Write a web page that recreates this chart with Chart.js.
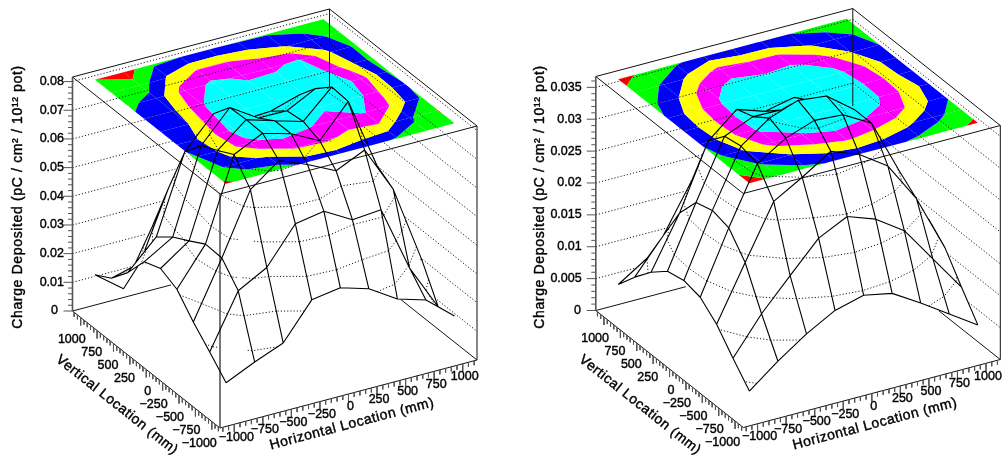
<!DOCTYPE html>
<html>
<head>
<meta charset="utf-8">
<title>Charge deposited</title>
<script src="https://cdn.jsdelivr.net/npm/chart.js@4"></script>
<style>
    body { margin: 0; background: #fff; overflow: hidden; }
    canvas { position: absolute; top: 0; }
    #leftChart { left: 0; }
    #rightChart { left: 501px; }
</style>
</head>
<body>
<canvas id="leftChart" width="501" height="456"></canvas>
<canvas id="rightChart" width="502" height="456"></canvas>
<script>
// Grid positions (mm) where the charge was sampled
const horizontalPos = [-1000, -750, -500, -250, 0, 250, 500, 750, 1000];
const verticalPos = [-1000, -750, -500, -250, 0, 250, 500, 750, 1000];

// Left plot, one row per vertical position, from -1000 up to 1000
const leftRow1 = [0.0122, 0.0168, 0.0208, 0.0332, 0.0348, 0.0318, 0.0256, 0.0226, 0.0144];
const leftRow2 = [0.0184, 0.0371, 0.0426, 0.0552, 0.0569, 0.0513, 0.0522, 0.0292, 0.0131];
const leftRow3 = [0.0243, 0.0440, 0.0652, 0.0727, 0.0687, 0.0639, 0.0685, 0.0522, 0.0250];
const leftRow4 = [0.0312, 0.0443, 0.0729, 0.0777, 0.0749, 0.0698, 0.0809, 0.0560, 0.0280];
const leftRow5 = [0.0339, 0.0409, 0.0698, 0.0779, 0.0749, 0.0720, 0.0814, 0.0620, 0.0240];
const leftRow6 = [0.0317, 0.0377, 0.0670, 0.0776, 0.0713, 0.0712, 0.0763, 0.0500, 0.0220];
const leftRow7 = [0.0234, 0.0332, 0.0603, 0.0709, 0.0660, 0.0665, 0.0695, 0.0430, 0.0240];
const leftRow8 = [0.0169, 0.0196, 0.0430, 0.0550, 0.0550, 0.0500, 0.0420, 0.0340, 0.0200];
const leftRow9 = [0.0136, 0.0061, 0.0250, 0.0272, 0.0275, 0.0265, 0.0260, 0.0200, 0.0150];

// Right plot, same layout
const rightRow1 = [0.0041, 0.0076, 0.0107, 0.0132, 0.0144, 0.0135, 0.0108, 0.0079, 0.0050];
const rightRow2 = [0.0072, 0.0130, 0.0178, 0.0225, 0.0247, 0.0231, 0.0201, 0.0145, 0.0089];
const rightRow3 = [0.0105, 0.0190, 0.0274, 0.0300, 0.0329, 0.0312, 0.0282, 0.0219, 0.0130];
const rightRow4 = [0.0127, 0.0224, 0.0313, 0.0341, 0.0357, 0.0354, 0.0329, 0.0240, 0.0155];
const rightRow5 = [0.0133, 0.0231, 0.0320, 0.0352, 0.0368, 0.0363, 0.0329, 0.0245, 0.0125];
const rightRow6 = [0.0127, 0.0223, 0.0315, 0.0334, 0.0333, 0.0336, 0.0320, 0.0235, 0.0122];
const rightRow7 = [0.0105, 0.0186, 0.0287, 0.0325, 0.0310, 0.0320, 0.0280, 0.0185, 0.0122];
const rightRow8 = [0.0077, 0.0130, 0.0205, 0.0265, 0.0248, 0.0245, 0.0190, 0.0155, 0.0105];
const rightRow9 = [0.0045, 0.0074, 0.0115, 0.0145, 0.0125, 0.0122, 0.0122, 0.0095, 0.0060];

// Axis ticks and labels
const xyTicks = [-1000, -750, -500, -250, 0, 250, 500, 750, 1000];
const xyLabels = ['\u22121000', '\u2212750', '\u2212500', '\u2212250', '0', '250', '500', '750', '1000'];
const leftZTicks = [0, 0.01, 0.02, 0.03, 0.04, 0.05, 0.06, 0.07, 0.08];
const leftZLabels = ['0', '0.01', '0.02', '0.03', '0.04', '0.05', '0.06', '0.07', '0.08'];
const rightZTicks = [0, 0.005, 0.01, 0.015, 0.02, 0.025, 0.03, 0.035];
const rightZLabels = ['0', '0.005', '0.01', '0.015', '0.02', '0.025', '0.03', '0.035'];

const bandColors = ['#ff0000', '#00ff00', '#0000ff', '#ffff00', '#ff00ff', '#00ffff'];
const zTitle = 'Charge Deposited (pC / cm\u00b2 / 10\u00b9\u00b2 pot)';
const xTitle = 'Horizontal Location (mm)';
const yTitle = 'Vertical Location (mm)';

const FONT = '"Liberation Sans", Arial, sans-serif';
const AXIS_HALF = 1125; // axis runs one half bin past the last sample

function makePanel(canvasId, rows, opts) {
    const zMax = opts.zMax;
    const toU = val => (val + AXIS_HALF) / (2 * AXIS_HALF);

    // 3D box -> page, u along horizontal axis, v along vertical axis, w up
    function project(u, v, w) {
        return {
            x: opts.frontX + u * 257 - v * 147.5,
            y: opts.frontY - u * 68 - v * 117 - w * opts.boxHeight
        };
    }

    // Surface vertices with their view depth
    const verts = rows.map((row, j) => row.map((z, i) => {
        const u = toU(horizontalPos[i]);
        const v = toU(verticalPos[j]);
        const p = project(u, v, z / zMax);
        return { u: u, v: v, z: z, x: p.x, y: p.y };
    }));

    const triangles = [];
    for (let j = 0; j < 8; j++) {
        for (let i = 0; i < 8; i++) {
            triangles.push([verts[j][i], verts[j][i + 1], verts[j + 1][i + 1]]);
            triangles.push([verts[j][i], verts[j + 1][i + 1], verts[j + 1][i]]);
        }
    }

    // True if some part of the surface is nearer than this point at the same pixel
    function isHidden(pt) {
        for (const t of triangles) {
            const d = (t[1].y - t[2].y) * (t[0].x - t[2].x) + (t[2].x - t[1].x) * (t[0].y - t[2].y);
            if (Math.abs(d) < 1e-6) continue;
            const a = ((t[1].y - t[2].y) * (pt.x - t[2].x) + (t[2].x - t[1].x) * (pt.y - t[2].y)) / d;
            const b = ((t[2].y - t[0].y) * (pt.x - t[2].x) + (t[0].x - t[2].x) * (pt.y - t[2].y)) / d;
            const c = 1 - a - b;
            if (a < 0 || b < 0 || c < 0) continue;
            if (a * t[0].v + b * t[1].v + c * t[2].v < pt.v - 0.012) return true;
        }
        return false;
    }

    // Push only the visible runs of a straight line, gaps are NaN points
    function addVisible(out, p0, p1, steps) {
        let start = null;
        let last = null;
        for (let s = 0; s <= steps; s++) {
            const t = s / steps;
            const v = p0.v + (p1.v - p0.v) * t;
            const pt = { x: p0.x + (p1.x - p0.x) * t, y: p0.y + (p1.y - p0.y) * t, v: v };
            if (isHidden(pt)) {
                if (start) { out.push({ x: start.x, y: start.y }, { x: last.x, y: last.y }, { x: NaN, y: NaN }); }
                start = null;
            } else {
                if (!start) start = pt;
                last = pt;
            }
        }
        if (start) out.push({ x: start.x, y: start.y }, { x: last.x, y: last.y }, { x: NaN, y: NaN });
    }

    function boxPoint(u, v, w) {
        const p = project(u, v, w);
        return { x: p.x, y: p.y, v: v };
    }

    const datasets = [];
    const addLine = (points, color, width, dash) => datasets.push({
        data: points, showLine: true, pointRadius: 0, borderColor: color,
        borderWidth: width, borderDash: dash || [], fill: false
    });

    // Contour bands on the top face of the box
    const levels = bandColors.map((c, b) => zMax * (b + 1) / bandColors.length);
    const clip = (poly, level, keepAbove) => {
        const res = [];
        poly.forEach((a, n) => {
            const b = poly[(n + 1) % poly.length];
            const aIn = keepAbove ? a.z >= level : a.z <= level;
            const bIn = keepAbove ? b.z >= level : b.z <= level;
            if (aIn) res.push(a);
            if (aIn !== bIn) {
                const t = (level - a.z) / (b.z - a.z);
                res.push({ u: a.u + (b.u - a.u) * t, v: a.v + (b.v - a.v) * t, z: level });
            }
        });
        return res;
    };
    for (let j = 0; j < 8; j++) {
        for (let i = 0; i < 8; i++) {
            const cell = [verts[j][i], verts[j][i + 1], verts[j + 1][i + 1], verts[j + 1][i]];
            bandColors.forEach((color, b) => {
                let poly = cell;
                if (b > 0) poly = clip(poly, levels[b - 1], true);
                if (b < bandColors.length - 1 && poly.length) poly = clip(poly, levels[b], false);
                if (poly.length < 3) return;
                const pts = poly.map(q => project(q.u, q.v, 1));
                pts.push(pts[0]);
                datasets.push({
                    data: pts, showLine: true, pointRadius: 0, borderWidth: 0,
                    backgroundColor: color, borderColor: color, fill: 'shape'
                });
            });
        }
    }

    // Dotted grid on the two back walls
    const dotted = [];
    opts.zTicks.forEach(z => {
        if (z === 0) return;
        const w = z / zMax;
        addVisible(dotted, boxPoint(0, 1, w), boxPoint(1, 1, w), 70);
        addVisible(dotted, boxPoint(1, 1, w), boxPoint(1, 0, w), 70);
    });

    // Dotted level lines on the surface at the same heights
    opts.zTicks.forEach(z => {
        if (z === 0) return;
        for (let j = 0; j < 8; j++) {
            for (let i = 0; i < 8; i++) {
                const cell = [verts[j][i], verts[j][i + 1], verts[j + 1][i + 1], verts[j + 1][i]];
                const hits = [];
                cell.forEach((a, n) => {
                    const b = cell[(n + 1) % 4];
                    if ((a.z < z) !== (b.z < z)) {
                        const t = (z - a.z) / (b.z - a.z);
                        hits.push({ x: a.x + (b.x - a.x) * t, y: a.y + (b.y - a.y) * t, v: a.v + (b.v - a.v) * t });
                    }
                });
                for (let h = 0; h + 1 < hits.length; h += 2) addVisible(dotted, hits[h], hits[h + 1], 8);
            }
        }
    });
    addLine(dotted, '#1a1a1a', 1, [1.2, 2]);

    // Box edges, the ones at the back can go behind the surface
    const box = [];
    const backEdges = [
        [[0, 1, 0], [1, 1, 0]], [[1, 1, 0], [1, 0, 0]], [[1, 1, 0], [1, 1, 1]]
    ];
    backEdges.forEach(e => addVisible(box, boxPoint(...e[0]), boxPoint(...e[1]), 60));
    const frontEdges = [
        [[0, 1, 1], [1, 1, 1]], [[1, 1, 1], [1, 0, 1]], [[1, 0, 1], [0, 0, 1]], [[0, 0, 1], [0, 1, 1]],
        [[1, 0, 0], [1, 0, 1]], [[0, 1, 0], [0, 0, 0]], [[0, 0, 0], [1, 0, 0]]
    ];
    frontEdges.forEach(e => box.push(project(...e[0]), project(...e[1]), { x: NaN, y: NaN }));
    addLine(box, '#111111', 1);

    const thick = [project(0, 1, 0), project(0, 1, 1), { x: NaN, y: NaN }];
    if (opts.grayFront) thick.push(project(0, 0, 0), project(0, 0, 1));
    else thick.push({ x: NaN, y: NaN });
    addLine(thick, '#555555', 1.6);

    // Tick marks
    const ticks = [];
    for (let val = -1100; val <= 1100; val += 50) {
        const len = val % 250 === 0 ? 8 : 4.5;
        const px = project(toU(val), 0, 0);
        ticks.push(px, { x: px.x, y: px.y + len }, { x: NaN, y: NaN });
        const py = project(0, toU(val), 0);
        ticks.push(py, { x: py.x, y: py.y + len }, { x: NaN, y: NaN });
    }
    const zStep = opts.zTicks[1] / 5;
    for (let k = 0; k * zStep <= zMax; k++) {
        const p = project(0, 1, k * zStep / zMax);
        ticks.push(p, { x: p.x - (k % 5 === 0 ? 9 : 4.5), y: p.y }, { x: NaN, y: NaN });
    }
    addLine(ticks, '#555555', 1);

    // Surface mesh
    const mesh = [];
    for (let j = 0; j < 9; j++) {
        for (let i = 0; i < 9; i++) {
            if (i < 8) addVisible(mesh, verts[j][i], verts[j][i + 1], 24);
            if (j < 8) addVisible(mesh, verts[j][i], verts[j + 1][i], 24);
        }
    }
    addLine(mesh, '#000000', 1.1);

    // Chart.js paints the first dataset last, the colours have to stay underneath
    datasets.reverse();

    const axisText = {
        id: 'axisText',
        afterDraw(chart) {
            const ctx = chart.ctx;
            const sx = chart.scales.x;
            const sy = chart.scales.y;
            const put = (text, x, y, align, angle, size, spacing) => {
                ctx.save();
                ctx.translate(sx.getPixelForValue(x), sy.getPixelForValue(y));
                ctx.rotate(angle * Math.PI / 180);
                ctx.font = size + 'px ' + FONT;
                ctx.letterSpacing = (spacing || 0) + 'px';
                ctx.fillStyle = '#000';
                ctx.strokeStyle = '#000';
                ctx.lineWidth = 0.4;
                ctx.textAlign = align;
                ctx.textBaseline = 'middle';
                ctx.fillText(text, 0, 0);
                ctx.strokeText(text, 0, 0);
                ctx.restore();
            };
            opts.zTicks.forEach((z, k) => {
                const p = project(0, 1, z / zMax);
                put(opts.zLabels[k], k === 0 ? opts.zeroRight : opts.labelRight, p.y, 'right', 0, 12.5);
            });
            xyTicks.forEach((val, k) => {
                const px = project(toU(val), 0, 0);
                put(xyLabels[k], px.x + 2, px.y + 13, 'center', 0, 12.5);
                const py = project(0, toU(val), 0);
                put(xyLabels[k], py.x + 5, py.y + 22, 'right', 0, 12.5);
            });
            put(xTitle, 352, 424, 'center', -14.8, 14, 0.55);
            put(yTitle, 117, 405, 'center', 38.4, 14, 0.55);
            put(zTitle, opts.titleX, 197, 'center', -90, 14, 0.65);
        }
    };

    return new Chart(document.getElementById(canvasId), {
        type: 'scatter',
        data: { datasets: datasets },
        plugins: [axisText],
        options: {
            responsive: false,
            animation: false,
            layout: { padding: 0 },
            plugins: { legend: { display: false }, tooltip: { enabled: false } },
            scales: {
                x: { type: 'linear', display: false, min: opts.xMin, max: opts.xMax },
                y: { type: 'linear', display: false, min: 0, max: 456, reverse: true }
            }
        }
    });
}

makePanel('leftChart',
    [leftRow1, leftRow2, leftRow3, leftRow4, leftRow5, leftRow6, leftRow7, leftRow8, leftRow9],
    {
        zMax: 0.0816, zTicks: leftZTicks, zLabels: leftZLabels, frontX: 220, frontY: 428, boxHeight: 234,
        xMin: 0, xMax: 501, labelRight: 64, zeroRight: 58, titleX: 18, grayFront: true
    });

makePanel('rightChart',
    [rightRow1, rightRow2, rightRow3, rightRow4, rightRow5, rightRow6, rightRow7, rightRow8, rightRow9],
    {
        zMax: 0.0367, zTicks: rightZTicks, zLabels: rightZLabels, frontX: 220.3, frontY: 427.5, boxHeight: 234,
        xMin: -22, xMax: 480, labelRight: 58.7, zeroRight: 58, titleX: 17, grayFront: false
    });
</script>
</body>
</html>
